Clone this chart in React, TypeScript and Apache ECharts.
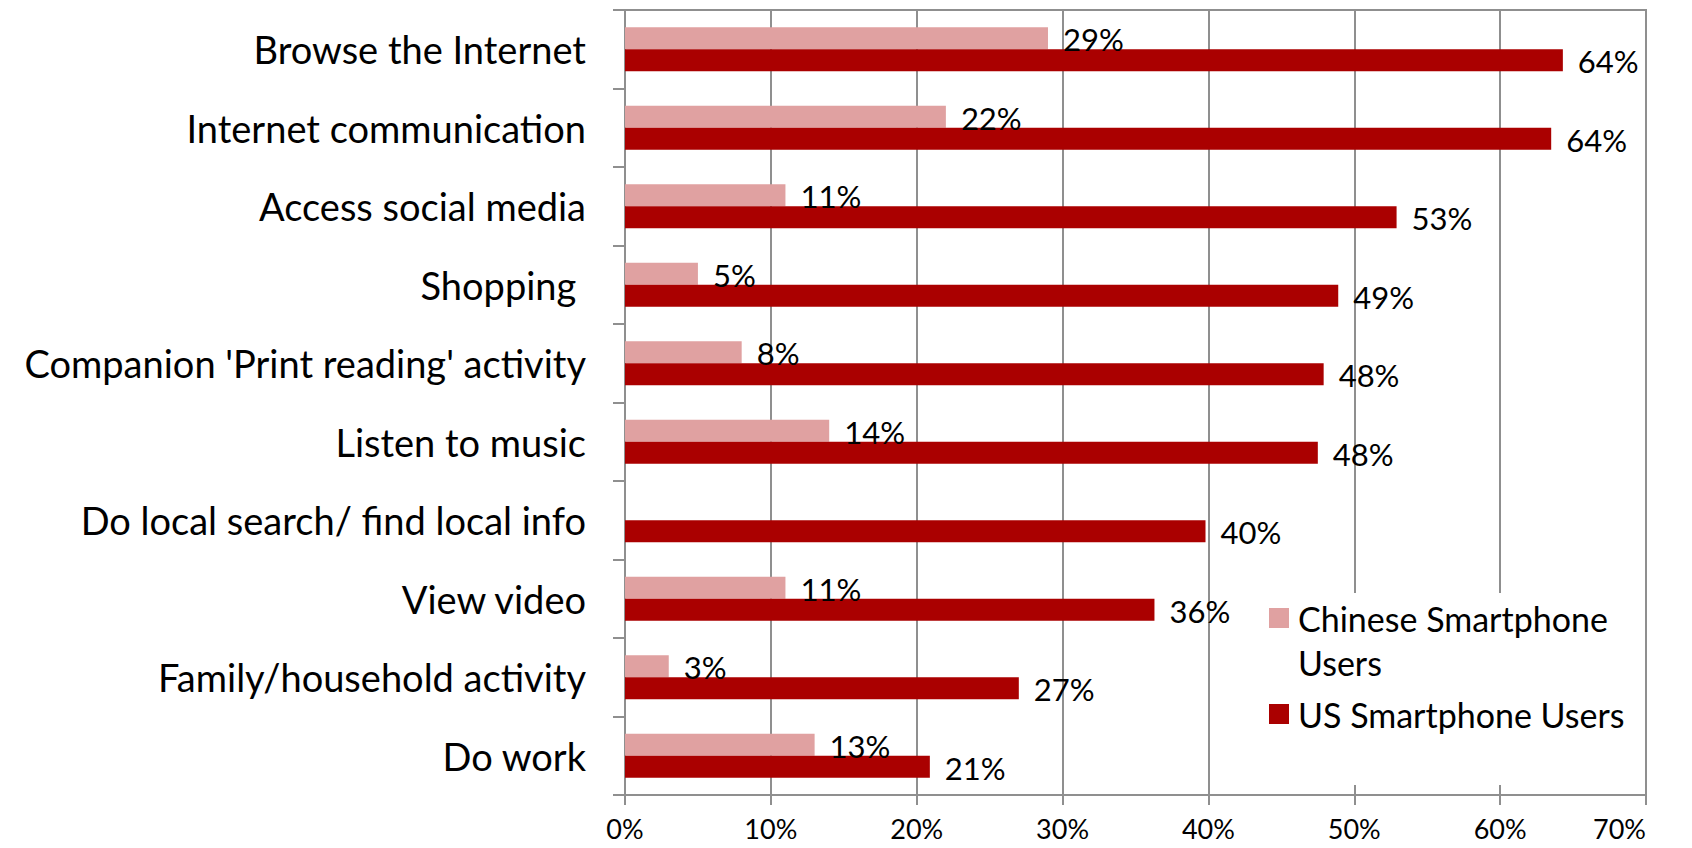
import React, { useEffect, useRef } from "react";
import * as echarts from "echarts";

const categories = [
  "Browse the Internet",
  "Internet communication",
  "Access social media",
  "Shopping ",
  "Companion 'Print reading' activity",
  "Listen to music",
  "Do local search/ find local info",
  "View video",
  "Family/household activity",
  "Do work",
];
const chineseUsers: (number | null)[] = [29, 22, 11, 5, 8, 14, null, 11, 3, 13];
const usUsers: number[] = [64.3, 63.5, 52.9, 48.9, 47.9, 47.5, 39.8, 36.3, 27.0, 20.9];
const seriesNames = ["Chinese Smartphone Users", "US Smartphone Users"];
const xTicks = { min: 0, max: 70, interval: 10 };

const FONT = "Lato, 'Noto Sans', sans-serif";
const GRID_COLOR = "#8f8f8f";

export default function App() {
  const ref = useRef<HTMLDivElement>(null);
  useEffect(() => {
    if (!ref.current) return;
    const chart = echarts.init(ref.current, undefined, { renderer: "svg" });
    const labelFmt = (p: any) =>
      p.value == null ? "" : Math.round(p.value) + "%";
    chart.setOption({
      animation: false,
      backgroundColor: "#fff",
      grid: {
        left: 625,
        right: 46,
        top: 10,
        bottom: 53,
        show: true,
        borderColor: GRID_COLOR,
        borderWidth: 2,
        containLabel: false,
      },
      legend: {
        orient: "vertical",
        left: 1264,
        top: 547,
        itemWidth: 20,
        itemHeight: 20,
        itemGap: 8,
        icon: "rect",
        textStyle: {
          fontSize: 34,
          fontFamily: FONT,
          color: "#000",
          lineHeight: 44,
          padding: [0, 0, 0, 4],
        },
        formatter: (name: string) =>
          name === seriesNames[0] ? "\nChinese Smartphone\nUsers" : name,
        data: [seriesNames[0], seriesNames[1]],
      },
      graphic: [
        {
          type: "rect",
          z: 1,
          shape: { x: 1222, y: 593, width: 418, height: 192 },
          style: { fill: "#fff" },
          silent: true,
        },
      ],
      xAxis: {
        type: "value",
        min: xTicks.min,
        max: xTicks.max,
        interval: xTicks.interval,
        axisLine: { show: true, lineStyle: { color: GRID_COLOR, width: 2 } },
        axisTick: { show: true, length: 10, lineStyle: { color: GRID_COLOR, width: 2 } },
        splitLine: { show: true, lineStyle: { color: GRID_COLOR, width: 2 } },
        axisLabel: {
          formatter: "{value}%",
          fontSize: 27,
          fontFamily: FONT,
          color: "#000",
          margin: 20,
          alignMaxLabel: "right",
        },
      },
      yAxis: {
        type: "category",
        inverse: true,
        data: categories,
        axisLine: { show: true, lineStyle: { color: GRID_COLOR, width: 2 } },
        axisTick: { show: true, length: 12, lineStyle: { color: GRID_COLOR, width: 2 } },
        splitLine: { show: false },
        axisLabel: {
          fontSize: 38,
          fontFamily: FONT,
          color: "#000",
          margin: 39,
        },
      },
      series: [
        {
          name: seriesNames[0],
          type: "bar",
          data: chineseUsers,
          barWidth: 22,
          barGap: "0%",
          itemStyle: { color: "#E0A1A1" },
          label: {
            show: true,
            position: "right",
            distance: 15,
            offset: [0, 1],
            formatter: labelFmt,
            fontSize: 31,
            fontFamily: FONT,
            color: "#000",
          },
        },
        {
          name: seriesNames[1],
          type: "bar",
          data: usUsers,
          barWidth: 22,
          barGap: "0%",
          itemStyle: { color: "#AA0000" },
          label: {
            show: true,
            position: "right",
            distance: 15,
            offset: [0, 1],
            formatter: labelFmt,
            fontSize: 31,
            fontFamily: FONT,
            color: "#000",
          },
        },
      ],
    });
    return () => chart.dispose();
  }, []);
  return (
    <div
      ref={ref}
      style={{ position: "fixed", left: 0, top: 0, width: 1692, height: 848 }}
    />
  );
}
